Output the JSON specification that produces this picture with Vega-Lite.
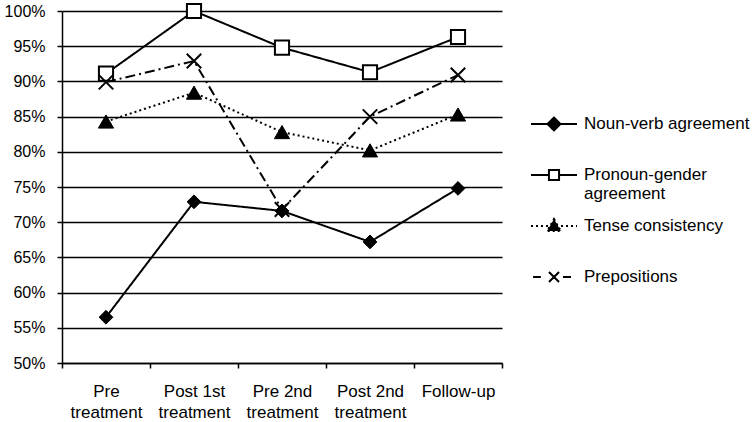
{
  "$schema": "https://vega.github.io/schema/vega-lite/v6.json",
  "width": 440,
  "height": 352,
  "autosize": {"type": "none"},
  "padding": {"left": 62, "top": 11, "right": 252, "bottom": 59},
  "background": "white",
  "config": {
    "view": {"stroke": null},
    "font": "Liberation Sans",
    "axis": {
      "labelFont": "Liberation Sans",
      "labelColor": "black",
      "domainColor": "black",
      "domainWidth": 1.5,
      "tickColor": "black",
      "tickWidth": 1.5,
      "gridColor": "black",
      "gridWidth": 1.5,
      "gridOpacity": 1,
      "title": null
    }
  },
  "data": {
    "values": [
      {"stage": "Pre treatment", "series": "Noun-verb agreement", "value": 0.565},
      {"stage": "Post 1st treatment", "series": "Noun-verb agreement", "value": 0.729},
      {"stage": "Pre 2nd treatment", "series": "Noun-verb agreement", "value": 0.716},
      {"stage": "Post 2nd treatment", "series": "Noun-verb agreement", "value": 0.672},
      {"stage": "Follow-up", "series": "Noun-verb agreement", "value": 0.748},
      {"stage": "Pre treatment", "series": "Pronoun-gender agreement", "value": 0.911},
      {"stage": "Post 1st treatment", "series": "Pronoun-gender agreement", "value": 1.0},
      {"stage": "Pre 2nd treatment", "series": "Pronoun-gender agreement", "value": 0.948},
      {"stage": "Post 2nd treatment", "series": "Pronoun-gender agreement", "value": 0.913},
      {"stage": "Follow-up", "series": "Pronoun-gender agreement", "value": 0.963},
      {"stage": "Pre treatment", "series": "Tense consistency", "value": 0.843},
      {"stage": "Post 1st treatment", "series": "Tense consistency", "value": 0.884},
      {"stage": "Pre 2nd treatment", "series": "Tense consistency", "value": 0.828},
      {"stage": "Post 2nd treatment", "series": "Tense consistency", "value": 0.802},
      {"stage": "Follow-up", "series": "Tense consistency", "value": 0.853},
      {"stage": "Pre treatment", "series": "Prepositions", "value": 0.899},
      {"stage": "Post 1st treatment", "series": "Prepositions", "value": 0.929},
      {"stage": "Pre 2nd treatment", "series": "Prepositions", "value": 0.718},
      {"stage": "Post 2nd treatment", "series": "Prepositions", "value": 0.85},
      {"stage": "Follow-up", "series": "Prepositions", "value": 0.909}
    ]
  },
  "encoding": {
    "x": {
      "field": "stage",
      "type": "nominal",
      "sort": ["Pre treatment", "Post 1st treatment", "Pre 2nd treatment", "Post 2nd treatment", "Follow-up"],
      "scale": {"type": "band", "paddingInner": 0, "paddingOuter": 0},
      "axis": {
        "tickBand": "extent",
        "tickSize": 5,
        "labelAngle": 0,
        "labelFontSize": 17,
        "labelPadding": 15,
        "labelLineHeight": 21,
        "labelBaseline": "top",
        "grid": false,
        "labelExpr": "[replace(datum.label, ' treatment', ''), indexof(datum.label, 'treatment') > 0 ? 'treatment' : '']"
      }
    },
    "y": {
      "field": "value",
      "type": "quantitative",
      "scale": {"domain": [0.5, 1.0], "nice": false, "zero": false},
      "axis": {
        "values": [0.5, 0.55, 0.6, 0.65, 0.7, 0.75, 0.8, 0.85, 0.9, 0.95, 1.0],
        "format": ".0%",
        "tickSize": 5,
        "labelFontSize": 16,
        "labelPadding": 12,
        "grid": true
      }
    }
  },
  "layer": [
    {
      "mark": {"type": "line", "strokeWidth": 2, "color": "black"},
      "encoding": {
        "strokeDash": {
          "field": "series",
          "type": "nominal",
          "scale": {
            "domain": ["Noun-verb agreement", "Pronoun-gender agreement", "Tense consistency", "Prepositions"],
            "range": [[1, 0], [1, 0], [2, 3], [10, 4, 2, 4]]
          },
          "legend": {
            "title": null,
            "orient": "none",
            "legendX": 468,
            "legendY": 89,
            "padding": 0,
            "gridAlign": "all",
            "rowPadding": -1,
            "symbolSize": 2116,
            "symbolStrokeWidth": 2,
            "symbolStrokeColor": "black",
            "symbolOpacity": 1,
            "labelFont": "Liberation Sans",
            "labelFontSize": 17,
            "labelColor": "black",
            "labelLimit": 0,
            "labelOffset": 6,
            "labelLineHeight": 20,
            "labelExpr": "datum.label == 'Pronoun-gender agreement' ? ['Pronoun-gender', 'agreement'] : datum.label",
            "encode": {
              "symbols": {
                "update": {
                  "shape": {"signal": "datum.value == 'Noun-verb agreement' ? 'M-1,0L1,0M0,-0.28L0.28,0L0,0.28L-0.28,0Z' : datum.value == 'Pronoun-gender agreement' ? 'M-1,0L-0.22,0M0.22,0L1,0M-0.22,-0.22L0.22,-0.22L0.22,0.22L-0.22,0.22Z' : datum.value == 'Tense consistency' ? 'M-1,0L1,0M0,-0.3L0.3,0.22L-0.3,0.22Z' : 'M-0.91,0L-0.57,0M-0.22,-0.22L0,0M0,0L0.22,0.22M-0.22,0.22L0,0M0,0L0.22,-0.22M0.39,0L0.74,0'"},
                  "fill": {"signal": "datum.value == 'Pronoun-gender agreement' ? 'white' : datum.value == 'Prepositions' ? 'transparent' : 'black'"},
                  "stroke": {"value": "black"},
                  "strokeWidth": {"value": 2},
                  "opacity": {"value": 1}
                }
              }
            }
          }
        }
      }
    },
    {
      "transform": [{"filter": "datum.series == 'Noun-verb agreement'"}],
      "mark": {"type": "point", "shape": "diamond", "size": 190, "filled": true, "fill": "black", "stroke": "black", "strokeWidth": 1, "opacity": 1}
    },
    {
      "transform": [{"filter": "datum.series == 'Pronoun-gender agreement'"}],
      "mark": {"type": "point", "shape": "square", "size": 200, "fill": "white", "fillOpacity": 1, "stroke": "black", "strokeWidth": 2, "opacity": 1}
    },
    {
      "transform": [{"filter": "datum.series == 'Tense consistency'"}],
      "mark": {"type": "point", "shape": "triangle-up", "size": 230, "filled": true, "fill": "black", "stroke": "black", "strokeWidth": 1, "opacity": 1}
    },
    {
      "transform": [{"filter": "datum.series == 'Prepositions'"}],
      "mark": {"type": "point", "shape": "M-1,-1L1,1M-1,1L1,-1", "size": 210, "fill": "transparent", "stroke": "black", "strokeWidth": 2, "opacity": 1}
    }
  ]
}
